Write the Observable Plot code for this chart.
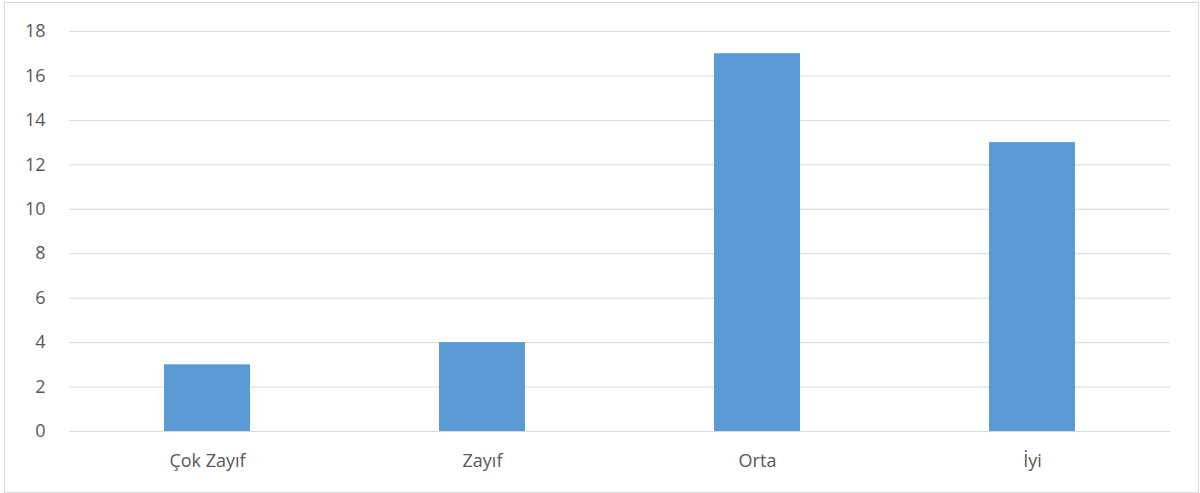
<!DOCTYPE html>
<html>
<head>
<meta charset="utf-8">
<script src="https://cdn.jsdelivr.net/npm/d3@7"></script>
<script src="https://cdn.jsdelivr.net/npm/@observablehq/plot@0.6"></script>
<style>
  html, body { margin: 0; padding: 0; background: #fff; }
  #wrap { position: relative; width: 1200px; height: 493px; }
  #border { position: absolute; left: 4px; top: 2px; width: 1193px; height: 489px; border: 1px solid #d9d9d9; pointer-events: none; }
  #wrap svg text { font-size: 18px; }
</style>
</head>
<body>
<div id="wrap"><div id="border"></div></div>
<script>
const categories = ["Çok Zayıf", "Zayıf", "Orta", "İyi"];
const values = [3, 4, 17, 13];
const yTicks = [0, 2, 4, 6, 8, 10, 12, 14, 16, 18];

const data = categories.map((c, i) => ({category: c, value: values[i]}));

const chart = Plot.plot({
  width: 1200,
  height: 493,
  marginLeft: 69,
  marginRight: 30,
  marginTop: 31,
  marginBottom: 62,
  style: {fontFamily: "'Open Sans', sans-serif", fontSize: "18px", color: "#595959", background: "transparent"},
  x: {domain: categories, paddingInner: 0.6875, paddingOuter: 0.34375, label: null},
  y: {domain: [0, 18], label: null},
  marks: [
    Plot.gridY(yTicks, {stroke: "#d9d9d9", strokeOpacity: 1, strokeWidth: 1}),
    Plot.barY(data, {x: "category", y: "value", fill: "#5b9bd5"}),
    Plot.axisY(yTicks, {tickSize: 0, tickPadding: 24, fontSize: 18, fill: "#595959"}),
    Plot.axisX({tickSize: 0, tickPadding: 23, fontSize: 18, fill: "#595959"})
  ]
});
document.getElementById("wrap").prepend(chart);
</script>
</body>
</html>
